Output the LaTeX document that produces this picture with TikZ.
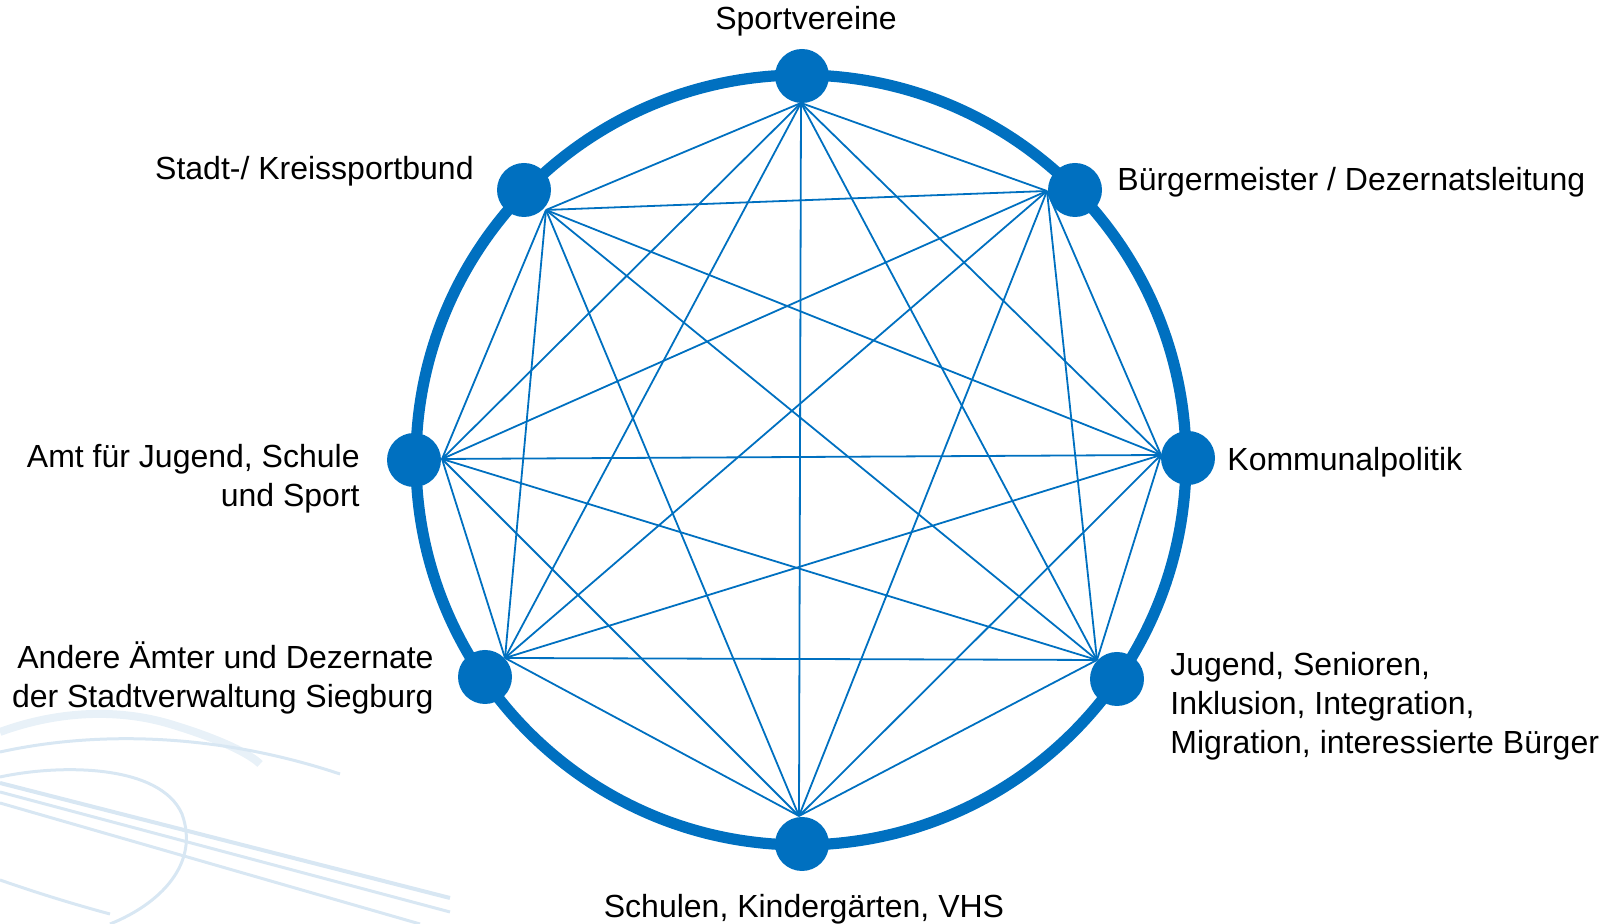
\documentclass[tikz,border=0pt]{standalone}
\usepackage{fontspec}
\setmainfont{Liberation Sans}
\definecolor{nblue}{RGB}{0,112,192}
\definecolor{swoosh}{RGB}{216,231,243}
\begin{document}
\begin{tikzpicture}[x=0.5pt,y=0.5pt,
  dot/.style={circle,fill=nblue,inner sep=0pt,minimum size=27pt},
  link/.style={draw=nblue,line width=0.9pt},
  ring/.style={draw=nblue,line width=5.6pt},
  sw/.style={draw=swoosh,line width=1.5pt},
  lbl/.style={font=\fontsize{16}{19.5}\selectfont,inner sep=0pt,text=black}]
\useasboundingbox (0,0) rectangle (1614,924);
% faint background swooshes
\draw[sw,line width=4pt,draw opacity=0.6] (0,192) .. controls (60,214) and (120,215) .. (170,200) .. controls (220,185) and (250,170) .. (260,160);
\draw[sw] (0,172) .. controls (100,194) and (220,190) .. (340,150);
\draw[sw] (0,147) .. controls (60,160) and (160,160) .. (182,110) .. controls (200,60) and (160,20) .. (110,0);
\draw[sw,line width=2pt] (0,141) -- (450,26);
\draw[sw] (0,132) -- (450,12);
\draw[sw] (0,121) -- (420,0);
\draw[sw] (0,44) .. controls (40,30) and (80,18) .. (110,10);
% meeting points of the connectors on each dot
\coordinate (psv) at (801,821);
\coordinate (pbm) at (1047,733);
\coordinate (pkp) at (1161,469);
\coordinate (pjg) at (1097,264);
\coordinate (psk) at (799,108);
\coordinate (paa) at (505,266);
\coordinate (paj) at (442,465);
\coordinate (psb) at (546,714);
\foreach \a [count=\i] in {sv,bm,kp,jg,sk,aa,aj,sb}{
  \foreach \b [count=\j] in {sv,bm,kp,jg,sk,aa,aj,sb}{
    \ifnum\j>\i \draw[link] (p\a) -- (p\b); \fi
  }
}
\coordinate (c) at (801,464);
\draw[ring] (c) circle[radius=385];
\node[dot] (sv) at (802,848) {};
\node[dot] (bm) at (1075,734) {};
\node[dot] (kp) at (1188,466) {};
\node[dot] (jg) at (1117,245) {};
\node[dot] (sk) at (802,80) {};
\node[dot] (aa) at (485,247) {};
\node[dot] (aj) at (414,464) {};
\node[dot] (sb) at (524,734) {};
% labels
\node[lbl,anchor=base] (tsv) at (806,894) {Sportvereine};
\node[lbl,anchor=base east] (tsb) at (474,744) {Stadt-/ Kreissportbund};
\node[lbl,anchor=base west] (tbm) at (1117,733) {Bürgermeister / Dezernatsleitung};
\node[lbl,anchor=base west] (tkp) at (1227,453) {Kommunalpolitik};
\node[lbl,anchor=base] (tsk) at (804,6) {Schulen, Kindergärten, VHS};
\node[lbl,anchor=base east,align=right] (taj) at (360,417) {Amt für Jugend, Schule\\und Sport};
\node[lbl,anchor=base east,align=right] (taa) at (434,216) {Andere Ämter und Dezernate\\der Stadtverwaltung Siegburg};
\node[lbl,anchor=base west,align=left] (tjg) at (1170,170) {Jugend, Senioren,\\Inklusion, Integration,\\Migration, interessierte Bürger};
\end{tikzpicture}
\end{document}
